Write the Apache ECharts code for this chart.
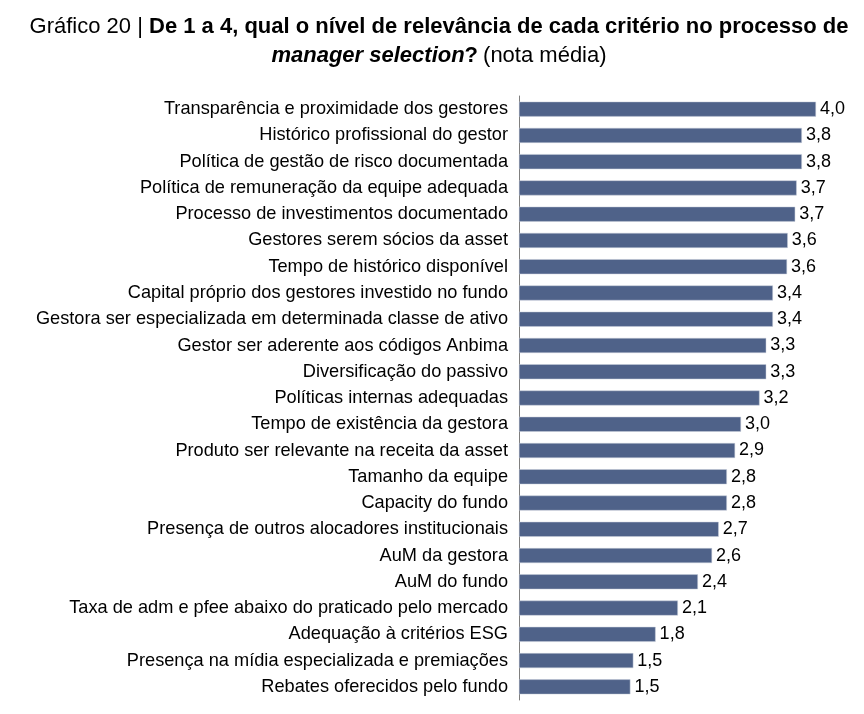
<!DOCTYPE html>
<html>
<head>
<meta charset="utf-8">
<script src="https://cdn.jsdelivr.net/npm/echarts@6/dist/echarts.min.js"></script>
<style>
  html, body { margin: 0; padding: 0; background: #fff; }
  #chart { width: 864px; height: 714px; }
</style>
</head>
<body>
<div id="chart"></div>
<script>
// criteria, top to bottom as shown
const categories = [
  'Transparência e proximidade dos gestores',
  'Histórico profissional do gestor',
  'Política de gestão de risco documentada',
  'Política de remuneração da equipe adequada',
  'Processo de investimentos documentado',
  'Gestores serem sócios da asset',
  'Tempo de histórico disponível',
  'Capital próprio dos gestores investido no fundo',
  'Gestora ser especializada em determinada classe de ativo',
  'Gestor ser aderente aos códigos Anbima',
  'Diversificação do passivo',
  'Políticas internas adequadas',
  'Tempo de existência da gestora',
  'Produto ser relevante na receita da asset',
  'Tamanho da equipe',
  'Capacity do fundo',
  'Presença de outros alocadores institucionais',
  'AuM da gestora',
  'AuM do fundo',
  'Taxa de adm e pfee abaixo do praticado pelo mercado',
  'Adequação à critérios ESG',
  'Presença na mídia especializada e premiações',
  'Rebates oferecidos pelo fundo'
];
// average score (bar length)
const scores = [4.00, 3.81, 3.81, 3.74, 3.72, 3.62, 3.61, 3.42, 3.42, 3.33, 3.33, 3.24,
  2.99, 2.91, 2.80, 2.80, 2.69, 2.60, 2.41, 2.14, 1.84, 1.54, 1.50];

const chart = echarts.init(document.getElementById('chart'), null, { renderer: 'canvas' });

chart.setOption({
  animation: false,
  textStyle: { fontFamily: 'Liberation Sans, Arial, sans-serif' },
  title: {
    left: 434,
    top: 7,
    textAlign: 'center',
    text: '{r|Gráfico 20 | }{b|De 1 a 4, qual o nível de relevância de cada critério no processo de}\n{bi|manager selection}{b|?} {r|(nota média)}',
    textStyle: {
      lineHeight: 29,
      rich: {
        r: { fontSize: 22, color: '#000', fontWeight: 'normal', lineHeight: 29 },
        b: { fontSize: 22, color: '#000', fontWeight: 'bold', lineHeight: 29 },
        bi: { fontSize: 22, color: '#000', fontWeight: 'bold', fontStyle: 'italic', lineHeight: 29 }
      }
    }
  },
  grid: { left: 519, right: 48, top: 96, bottom: 14, containLabel: false },
  xAxis: {
    type: 'value',
    min: 0,
    max: 4,
    show: false
  },
  yAxis: {
    type: 'category',
    inverse: true,
    data: categories,
    axisLine: { show: true, lineStyle: { color: '#7f7f7f', width: 1 } },
    axisTick: { show: false },
    axisLabel: { color: '#000', fontSize: 18.2, margin: 11 }
  },
  series: [{
    type: 'bar',
    data: scores,
    barWidth: 15,
    itemStyle: { color: '#4f6289', borderColor: '#c9cfdb', borderWidth: 0.5 },
    label: {
      show: true,
      position: 'right',
      distance: 4,
      color: '#000',
      fontSize: 18,
      formatter: p => p.value.toFixed(1).replace('.', ',')
    }
  }]
});
</script>
</body>
</html>
